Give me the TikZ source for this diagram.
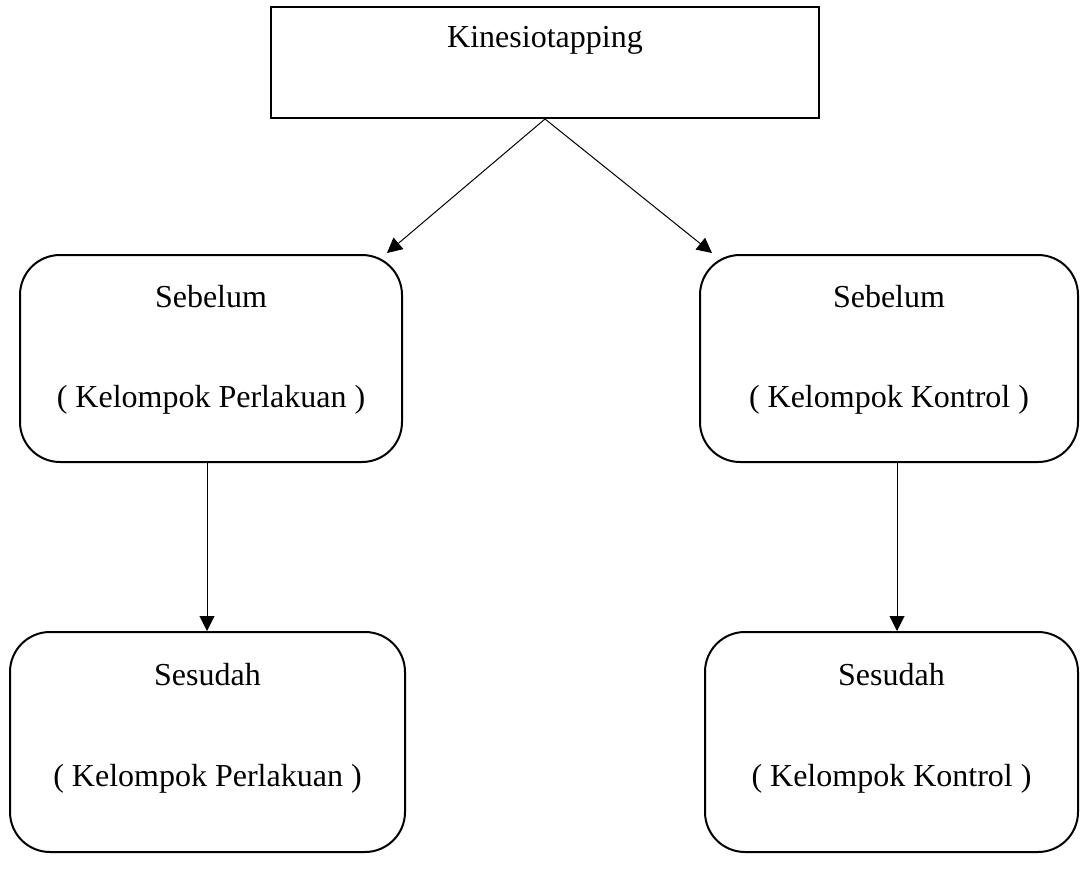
\documentclass[tikz,border=0pt]{standalone}
\usepackage{fontspec}
\setmainfont{Liberation Serif}
\usetikzlibrary{arrows.meta}
\begin{document}
\begin{tikzpicture}[x=1pt,y=-1pt,
  sqbox/.style={draw,line width=2pt,inner sep=0pt},
  rbox/.style={draw,line width=2pt,rounded corners=40pt,inner sep=0pt},
  lbl/.style={anchor=base,inner sep=0pt,font=\fontsize{32}{38}\selectfont},
  arr/.style={line width=1pt,-{Triangle[length=15pt,width=15pt]}}]
\useasboundingbox (0,0) rectangle (1080,875);
% boxes
\node[sqbox,minimum width=548pt,minimum height=111pt] (top) at (545,62.5) {};
\node[rbox,minimum width=382pt,minimum height=207pt] (lb1) at (211,358.5) {};
\node[rbox,minimum width=378pt,minimum height=207pt] (rb1) at (889,358.5) {};
\node[rbox,minimum width=395pt,minimum height=220pt] (lb2) at (207.5,742) {};
\node[rbox,minimum width=373pt,minimum height=220pt] (rb2) at (891.5,742) {};
% texts
\node[lbl] (ttop) at (545,48) {Kinesiotapping};
\node[lbl] (tl1a) at (211,307) {Sebelum};
\node[lbl] (tl1b) at (211,407) {( Kelompok Perlakuan )};
\node[lbl] (tr1a) at (889,307) {Sebelum};
\node[lbl] (tr1b) at (889,407) {( Kelompok Kontrol )};
\node[lbl] (tl2a) at (207.5,685) {Sesudah};
\node[lbl] (tl2b) at (207.5,786) {( Kelompok Perlakuan )};
\node[lbl] (tr2a) at (891.5,685) {Sesudah};
\node[lbl] (tr2b) at (891.5,786) {( Kelompok Kontrol )};
% connectors
\coordinate (tl) at (387,253);
\coordinate (tr) at (712,253);
\draw[arr] (top.south) -- (tl);
\draw[arr] (top.south) -- (tr);
\draw[arr] (lb1.south -| 207,0) -- (lb2.north -| 207,0);
\draw[arr] (rb1.south -| 897,0) -- (rb2.north -| 897,0);
\end{tikzpicture}
\end{document}
